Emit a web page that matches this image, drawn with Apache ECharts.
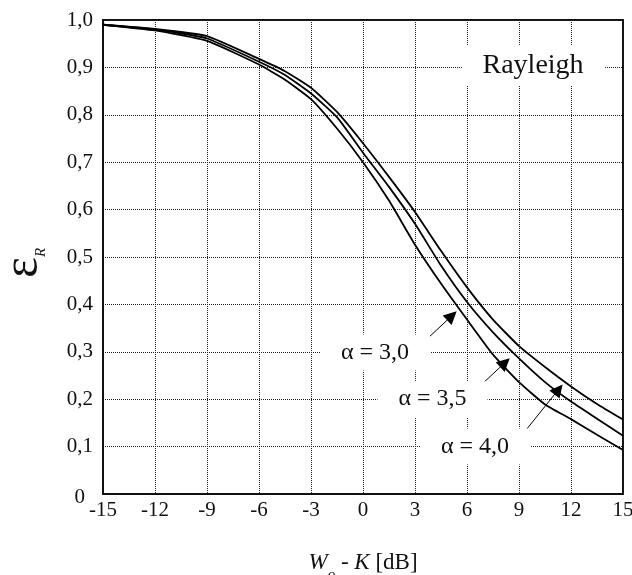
<!DOCTYPE html>
<html>
<head>
<meta charset="utf-8">
<script src="https://cdn.jsdelivr.net/npm/echarts@6/dist/echarts.min.js"></script>
<style>
  html, body { margin: 0; padding: 0; background: #fff; }
  #chart { width: 632px; height: 575px; }
</style>
</head>
<body>
<div id="chart"></div>
<script>
// Margin W0 - K in dB
const offsetDb = [-15, -12, -9, -6, -4.5, -3, -1.5, 0, 1.5, 3, 4.5, 6, 7.5, 9, 10.5, 12, 13.5, 15];
// εR for each path-loss exponent α
const epsAlpha30 = [0.99, 0.978, 0.956, 0.906, 0.874, 0.833, 0.771, 0.70, 0.619, 0.526, 0.444, 0.368, 0.294, 0.236, 0.189, 0.158, 0.125, 0.093];
const epsAlpha35 = [0.99, 0.98, 0.961, 0.912, 0.884, 0.845, 0.795, 0.72, 0.648, 0.57, 0.482, 0.405, 0.341, 0.286, 0.236, 0.195, 0.159, 0.123];
const epsAlpha40 = [0.99, 0.981, 0.966, 0.918, 0.892, 0.857, 0.806, 0.74, 0.669, 0.595, 0.513, 0.436, 0.368, 0.312, 0.268, 0.227, 0.19, 0.157];
const curveLabels = ['α = 3,0', 'α = 3,5', 'α = 4,0'];
// Annotation anchors in (dB, εR): label centre, arrow tail, arrow head centre
const labelAt = [[0.69, 0.2985], [4.01, 0.2], [6.46, 0.1]];
const arrowFrom = [[3.69, 0.327], [6.75, 0.228], [9.23, 0.127]];
const arrowTo = [[5.13, 0.376], [8.19, 0.277], [11.28, 0.2205]];
const fadingLabel = 'Rayleigh';
const fadingAt = [9.81, 0.904];

const SERIF = '"Liberation Serif", "Times New Roman", serif';
const curves = [epsAlpha30, epsAlpha35, epsAlpha40];

function labelBox(text, coord, w, h, size) {
  return {
    coord: coord,
    symbol: 'rect',
    symbolSize: [w, h],
    itemStyle: { color: '#fff' },
    label: {
      show: true, position: 'inside', formatter: text,
      color: '#111', fontFamily: SERIF, fontSize: size
    }
  };
}

const series = curves.map(function (vals, i) {
  const s = {
    name: curveLabels[i],
    type: 'line',
    data: offsetDb.map(function (d, k) { return [d, vals[k]]; }),
    showSymbol: false,
    smooth: 0.15,
    lineStyle: { color: '#000', width: 1.8 },
    z: 3,
    markLine: {
      silent: true,
      symbol: ['none', 'triangle'],
      symbolSize: 13,
      label: { show: false },
      lineStyle: { color: '#000', width: 1, type: 'solid' },
      itemStyle: { color: '#000' },
      data: [[
        { coord: arrowFrom[i], symbol: 'none' },
        { coord: arrowTo[i], symbol: 'triangle', symbolSize: 13 }
      ]]
    },
    markPoint: {
      silent: true,
      data: [labelBox(curveLabels[i], labelAt[i], 110, 36, 24)]
    }
  };
  if (i === 0) {
    s.markPoint.data.push(labelBox(fadingLabel, fadingAt, 142, 41, 28));
  }
  return s;
});

const chart = echarts.init(document.getElementById('chart'), null, { renderer: 'canvas' });
chart.setOption({
  animation: false,
  backgroundColor: '#fff',
  grid: {
    left: 103, top: 20, right: 9, bottom: 81,
    outerBoundsMode: 'none',
    containLabel: false,
    show: true, borderColor: '#111', borderWidth: 2
  },
  xAxis: {
    type: 'value', min: -15, max: 15, interval: 3,
    axisLine: { show: true, onZero: false, lineStyle: { color: '#111', width: 2 } },
    axisTick: { show: false },
    axisLabel: { color: '#111', fontFamily: SERIF, fontSize: 21, margin: 6 },
    splitLine: { show: true, lineStyle: { color: '#222', width: 1, type: [1, 1] } },
    name: '{i|W}{sub|o}{n| - }{i|K}{n| [dB]}',
    nameLocation: 'middle',
    nameGap: 57,
    nameTextStyle: {
      rich: {
        i: { fontFamily: SERIF, fontStyle: 'italic', fontSize: 23, color: '#111', lineHeight: 26, verticalAlign: 'top' },
        n: { fontFamily: SERIF, fontSize: 23, color: '#111', lineHeight: 26, verticalAlign: 'top' },
        sub: { fontFamily: SERIF, fontStyle: 'italic', fontSize: 15, color: '#111', lineHeight: 16, verticalAlign: 'top', padding: [17, 0, 0, 0] }
      }
    }
  },
  yAxis: {
    type: 'value', min: 0, max: 1, interval: 0.1,
    axisLine: { show: true, onZero: false, lineStyle: { color: '#111', width: 2 } },
    axisTick: { show: false },
    axisLabel: {
      color: '#111', fontFamily: SERIF, fontSize: 21, margin: 10,
      formatter: function (v) {
        return v === 0 ? '{z|0}' : v.toFixed(1).replace('.', ',');
      },
      rich: { z: { fontFamily: SERIF, fontSize: 21, color: '#111', padding: [6, 8, 0, 0] } }
    },
    splitLine: { show: true, lineStyle: { color: '#222', width: 1, type: [1, 1] } },
    name: '{e|ε}{r|R}',
    nameLocation: 'middle',
    nameGap: 54,
    nameTextStyle: {
      rich: {
        e: { fontFamily: SERIF, fontSize: 50, color: '#111', lineHeight: 50, verticalAlign: 'top' },
        r: { fontFamily: SERIF, fontStyle: 'italic', fontSize: 15, color: '#111', lineHeight: 15, verticalAlign: 'top', padding: [35, 12, 0, 0] }
      }
    }
  },
  series: series
});
</script>
</body>
</html>
